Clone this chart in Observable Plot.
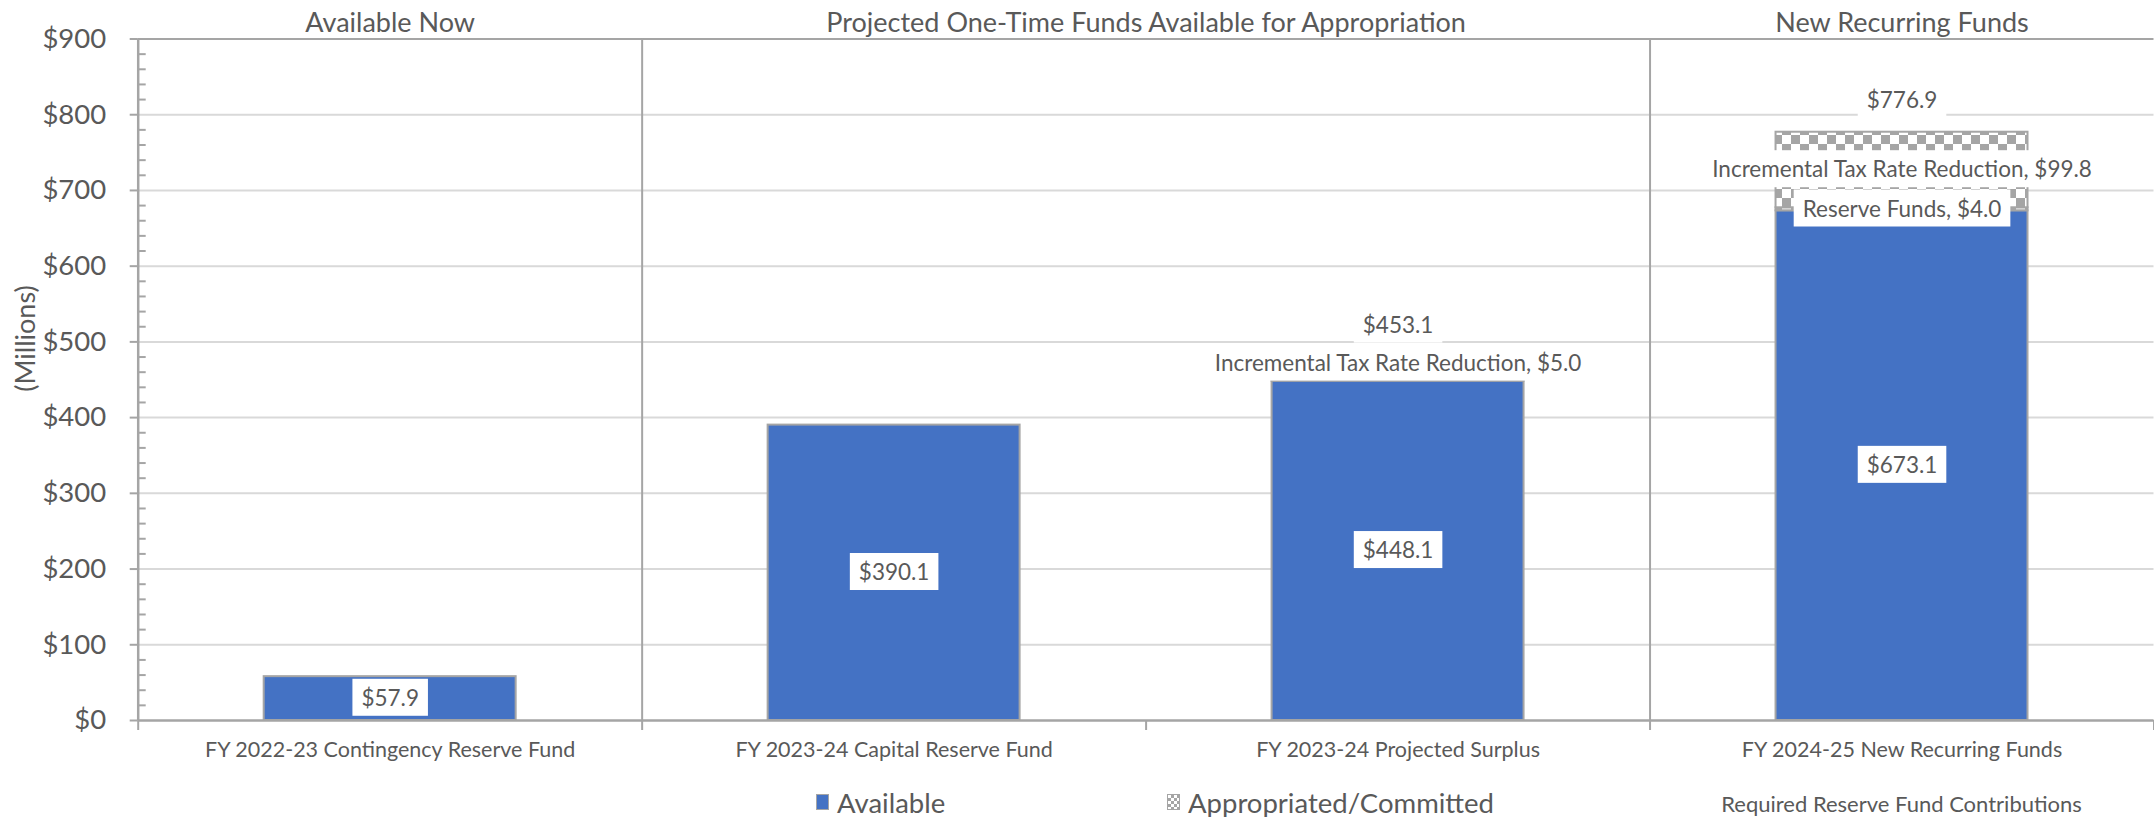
<!DOCTYPE html>
<html>
<head>
<meta charset="utf-8">
<script src="https://cdn.jsdelivr.net/npm/d3@7"></script>
<script src="https://cdn.jsdelivr.net/npm/@observablehq/plot@0.6"></script>
<style>
  html, body { margin: 0; padding: 0; background: #fff; }
  body { font-family: Lato, "Open Sans", sans-serif; color: #595959; width: 2154px; }
  #legend { position: relative; width: 2154px; height: 32px; margin-top: 1px; }
  #legend .item { position: absolute; top: 0; height: 32px; display: flex; align-items: center; font-size: 27.5px; white-space: nowrap; }
  #legend .sw { width: 13px; height: 16px; box-sizing: border-box; border: 1.5px solid #a5a5a5; margin-right: 8px; }
  #legend .note { position: absolute; top: 2px; height: 32px; line-height: 32px; font-size: 22px; white-space: nowrap; transform: translateX(-50%); }
</style>
</head>
<body>
<div id="chart"></div>
<div id="legend"></div>
<script>
// ---------------- data ----------------
const categories = [
  "FY 2022-23 Contingency Reserve Fund",
  "FY 2023-24 Capital Reserve Fund",
  "FY 2023-24 Projected Surplus",
  "FY 2024-25 New Recurring Funds"
];
const seriesNames = ["Available", "Reserve Funds", "Incremental Tax Rate Reduction"];
const availableValues = [57.9, 390.1, 448.1, 673.1];
const reserveFundValues = [0, 0, 0, 4.0];
const taxRateReductionValues = [0, 0, 5.0, 99.8];
const sectionTitles = ["Available Now", "Projected One-Time Funds Available for Appropriation", "New Recurring Funds"];
const sectionFirstCategory = [0, 1, 3];   // index of first category in each section
const sectionLastCategory = [0, 2, 3];    // index of last category in each section
const yTicks = [0, 100, 200, 300, 400, 500, 600, 700, 800, 900];
const yMinorTicks = d3.range(0, 901, 20).filter(v => v % 100 !== 0);
const legendLabels = ["Available", "Appropriated/Committed"];
const yLabel = "(Millions)";
const footnote = "Required Reserve Fund Contributions";

// ---------------- styles ----------------
const BLUE = "#4472c4", GRAY = "#a5a5a5", GRID = "#d9d9d9", TEXT = "#595959";
const barWidth = 0.5;   // fraction of each category slot

// ---------------- derived tables ----------------
const seriesValues = [availableValues, reserveFundValues, taxRateReductionValues];
const rows = [];
const totals = [];
categories.forEach((cat, i) => {
  let base = 0, n = 0;
  seriesNames.forEach((s, k) => {
    const v = seriesValues[k][i];
    if (v > 0) {
      rows.push({i, cat, series: s, value: v, y1: base, y2: base + v, available: k === 0});
      base += v; n++;
    }
  });
  totals.push({i, total: base, segments: n});
});
rows.forEach(d => {
  const top = d.y2 === totals[d.i].total;
  d.above = top && !d.available && d.value < 15;   // too thin to hold its label
});
const fmt = d3.format(".1f");
const labelText = d => d.available ? "$" + fmt(d.value) : `${d.series}, $${fmt(d.value)}`;
const stackedTotals = totals.filter(t => t.segments > 1).map(t => ({...t, aboveLabel: rows.some(r => r.i === t.i && r.above)}));
const sections = sectionTitles.map((title, j) => ({title, start: sectionFirstCategory[j], end: sectionLastCategory[j] + 1}));
const separators = sections.slice(1).map(s => s.start);
const slotCenters = categories.map((c, i) => i + 0.5);
const slotEdges = d3.range(0, categories.length + 1);

// ---------------- chart ----------------
const plot = Plot.plot({
  width: 2154,
  height: 785,
  marginLeft: 137.7,
  marginRight: 0.5,
  marginTop: 38.5,
  marginBottom: 65,
  style: {fontFamily: "Lato, 'Open Sans', sans-serif", color: TEXT, background: "#fff", overflow: "visible"},
  x: {domain: [0, categories.length], axis: null},
  y: {domain: [0, 900], axis: null},
  marks: [
    Plot.ruleY(yTicks.filter(v => v > 0 && v < 900), {stroke: GRID, strokeWidth: 2}),
    Plot.ruleY([900], {stroke: GRAY, strokeWidth: 2}),
    Plot.ruleX(separators, {stroke: GRAY, strokeWidth: 2}),
    Plot.rect(rows, {
      x1: d => d.i + (1 - barWidth) / 2,
      x2: d => d.i + (1 + barWidth) / 2,
      y1: "y1", y2: "y2",
      fill: d => d.available ? BLUE : "url(#checker)",
      stroke: GRAY, strokeWidth: 2
    }),
    Plot.ruleX([0], {stroke: GRAY, strokeWidth: 2.5}),
    Plot.ruleY([0], {stroke: GRAY, strokeWidth: 2.5}),
    Plot.ruleY(yMinorTicks, {x1: 0, x2: 0, insetRight: -8, stroke: GRAY, strokeWidth: 2}),
    Plot.axisY(yTicks, {tickSize: 8, tickPadding: 24, tickFormat: d => "$" + d, fontSize: 27.5, stroke: GRAY, strokeWidth: 2, fill: TEXT, label: null}),
    Plot.axisX(slotEdges, {tickSize: 10, tickFormat: () => "", stroke: GRAY, strokeWidth: 2, label: null}),
    Plot.axisX(slotCenters, {tickSize: 0, tickPadding: 21, tickFormat: d => categories[Math.floor(d)], fontSize: 21.5, fill: TEXT, label: null}),
    Plot.text(sections, {x: d => (d.start + d.end) / 2, frameAnchor: "top", dy: -26, text: "title", fontSize: 27, fill: TEXT}),
    Plot.text([yLabel], {frameAnchor: "left", rotate: -90, dx: -112, dy: 12, fontSize: 27, fill: TEXT}),
    Plot.text(rows, {
      x: d => d.i + 0.5,
      y: d => d.above ? d.y2 : (d.y1 + d.y2) / 2,
      text: labelText, fontSize: 22.5, fill: TEXT, ariaDescription: "boxed"
    }),
    Plot.text(stackedTotals, {
      x: d => d.i + 0.5, y: "total",
      text: d => "$" + fmt(d.total), fontSize: 22.5, fill: TEXT, ariaDescription: "boxed"
    })
  ]
});
document.getElementById("chart").appendChild(plot);

const NS = "http://www.w3.org/2000/svg";
// checker pattern for appropriated segments
const defs = document.createElementNS(NS, "defs");
defs.innerHTML = `<pattern id="checker" width="18" height="18" patternUnits="userSpaceOnUse">
  <rect width="18" height="18" fill="#fff"/>
  <rect width="9" height="9" fill="${GRAY}"/>
  <rect x="9" y="9" width="9" height="9" fill="${GRAY}"/></pattern>`;
plot.prepend(defs);

// shift label positions that sit above the bar (pixel offsets)
const labelGroups = plot.querySelectorAll('g[aria-description="boxed"]');
if (labelGroups.length >= 2) {
  const rowTexts = labelGroups[0].querySelectorAll("text");
  rowTexts.forEach((t, k) => {
    if (rows[k] && rows[k].above) t.setAttribute("dy", (parseFloat(t.getAttribute("dy") || 0) - 14) + "");
  });
  const totTexts = labelGroups[1].querySelectorAll("text");
  totTexts.forEach((t, k) => {
    const off = stackedTotals[k].aboveLabel ? -52 : -31;
    t.setAttribute("dy", off + "");
  });
}
// white boxes behind data labels
plot.querySelectorAll('g[aria-description="boxed"] text').forEach(t => {
  const b = t.getBBox();
  const r = document.createElementNS(NS, "rect");
  r.setAttribute("x", b.x - 9);
  r.setAttribute("y", b.y - 5);
  r.setAttribute("width", b.width + 18);
  r.setAttribute("height", b.height + 10);
  r.setAttribute("fill", "#fff");
  if (t.getAttribute("transform")) r.setAttribute("transform", t.getAttribute("transform"));
  t.parentNode.insertBefore(r, t);
});

// legend
const legend = document.getElementById("legend");
const swatches = [BLUE, `repeating-conic-gradient(${GRAY} 0 25%, #fff 0 50%) 0 0 / 6px 6px`];
const legendLeft = [816, 1167];
legendLabels.forEach((lab, k) => {
  const item = document.createElement("span");
  item.className = "item";
  item.style.left = legendLeft[k] + "px";
  const sw = document.createElement("span");
  sw.className = "sw";
  sw.style.background = swatches[k];
  item.appendChild(sw);
  item.appendChild(document.createTextNode(lab));
  legend.appendChild(item);
});
const note = document.createElement("span");
note.className = "note";
note.style.left = plot.scale("x").apply(categories.length - 0.5) + "px";
note.textContent = footnote;
legend.appendChild(note);
</script>
</body>
</html>
